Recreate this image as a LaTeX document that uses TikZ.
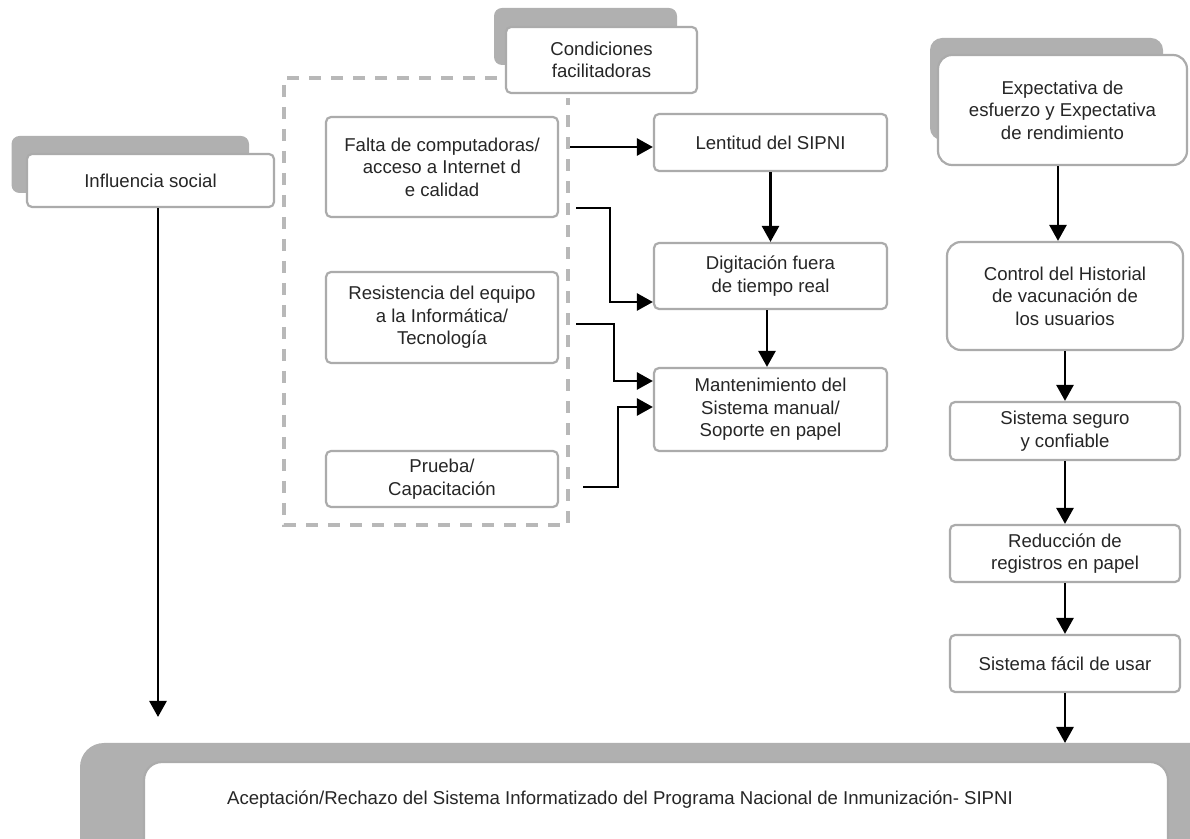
\documentclass[tikz,border=0pt]{standalone}
\usepackage{fontspec}
\setmainfont{Liberation Sans}
\usetikzlibrary{arrows.meta, calc}
\definecolor{shade}{HTML}{B0B0B0}
\definecolor{edge}{HTML}{ABABAB}
\definecolor{frameclr}{HTML}{B8B8B8}

\begin{document}
\begin{tikzpicture}[x=0.5pt, y=-0.5pt, >={Triangle[length=8pt,width=8.5pt]},
    box/.style={draw=edge, line width=1.1pt, fill=white, rounded corners=2.5pt,
        align=center, inner sep=0pt, text=black!85,
        font=\fontsize{9.3}{11.25}\selectfont},
    bigbox/.style={box, rounded corners=7pt},
    back/.style={fill=shade, rounded corners=4pt},
    link/.style={->, line width=1.35pt}]
            \clip (0,0) rectangle (1190,839);
            % grey tabs behind the headers
            \fill[back] (11.5,136) rectangle (249,193);
            \fill[back] (494,8) rectangle (677,65);
            \fill[back, rounded corners=6pt] (930,38) rectangle (1163,140);
            \fill[back, rounded corners=12pt] (80,743) rectangle (1240,900);
            \draw[draw=frameclr, line width=2pt, dash pattern=on 6pt off 5pt]
                (497,78) -- (284,78) -- (284,525) -- (568,525) -- (568,98);

            \node[box, minimum width=123.5pt, minimum height=26.5pt] (infl) at (150.5,180.5) {Influencia social};
            \node[box, minimum width=95.5pt, minimum height=33pt] (cond) at (601.5,60) {Condiciones\\facilitadoras};
            \node[bigbox, minimum width=124.5pt, minimum height=55pt] (expect) at (1062.5,110) {Expectativa de\\esfuerzo y Expectativa\\de rendimiento};

            \node[box, minimum width=116pt, minimum height=50pt] (falta) at (442,167) {Falta de computadoras/\\acceso a Internet d\\e calidad};
            \node[box, minimum width=116pt, minimum height=45.5pt] (resis) at (442,317.5) {Resistencia del equipo\\a la Informática/\\Tecnología};
            \node[box, minimum width=116pt, minimum height=28pt] (prueba) at (442,479) {Prueba/\\Capacitación};

            \node[box, minimum width=116.5pt, minimum height=28.5pt] (lent) at (770.5,142.5) {Lentitud del SIPNI};
            \node[box, minimum width=116.5pt, minimum height=33pt] (digit) at (770.5,276) {Digitación fuera\\de tiempo real};
            \node[box, minimum width=116.5pt, minimum height=41.5pt] (mant) at (770.5,409.5) {Mantenimiento del\\Sistema manual/\\Soporte en papel};

            \node[bigbox, minimum width=118pt, minimum height=54pt] (control) at (1065,296) {Control del Historial\\de vacunación de\\los usuarios};
            \node[box, minimum width=115pt, minimum height=29pt] (seguro) at (1065,431) {Sistema seguro\\y confiable};
            \node[box, minimum width=115pt, minimum height=28.5pt] (reduc) at (1065,553.5) {Reducción de\\registros en papel};
            \node[box, minimum width=115pt, minimum height=28.5pt] (facil) at (1065,663.5) {Sistema fácil de usar};

            \fill[white, draw=edge, line width=1.1pt, rounded corners=9pt] (144,762) rectangle (1168,900);
            \node[inner sep=0pt, text=black!85, font=\fontsize{9.3}{11.25}\selectfont] (accept) at (620,800)
                {Aceptación/Rechazo del Sistema Informatizado del Programa Nacional de Inmunización- SIPNI};
            \coordinate (accepttop) at (620,743);
            \coordinate (inflend) at (158,717);

            \draw[link] (infl.south -| inflend) -- (inflend);
            \draw[link] ($(falta.east)+(11,-20)$) -- ($(lent.west)+(0,4.5)$);
            \draw[link] ($(falta.east)+(17,41)$) -- ++(34,0) |- ($(digit.west)+(0,26)$);
            \draw[link] ($(resis.east)+(17,6.5)$) -- ++(38,0) |- ($(mant.west)+(0,-28.5)$);
            \draw[link] ($(prueba.east)+(24,8)$) -- ++(35,0) |- ($(mant.west)+(0,-2.5)$);
            \draw[link] (lent) -- (digit);
            \draw[link] (digit.south -| 767,0) -- (mant.north -| 767,0);
            \draw[link] (expect.south -| 1058,0) -- (control.north -| 1058,0);
            \draw[link] (control) -- (seguro);
            \draw[link] (seguro) -- (reduc);
            \draw[link] (reduc) -- (facil);
            \draw[link] (facil) -- (facil.south |- accepttop);
\end{tikzpicture}
\end{document}
